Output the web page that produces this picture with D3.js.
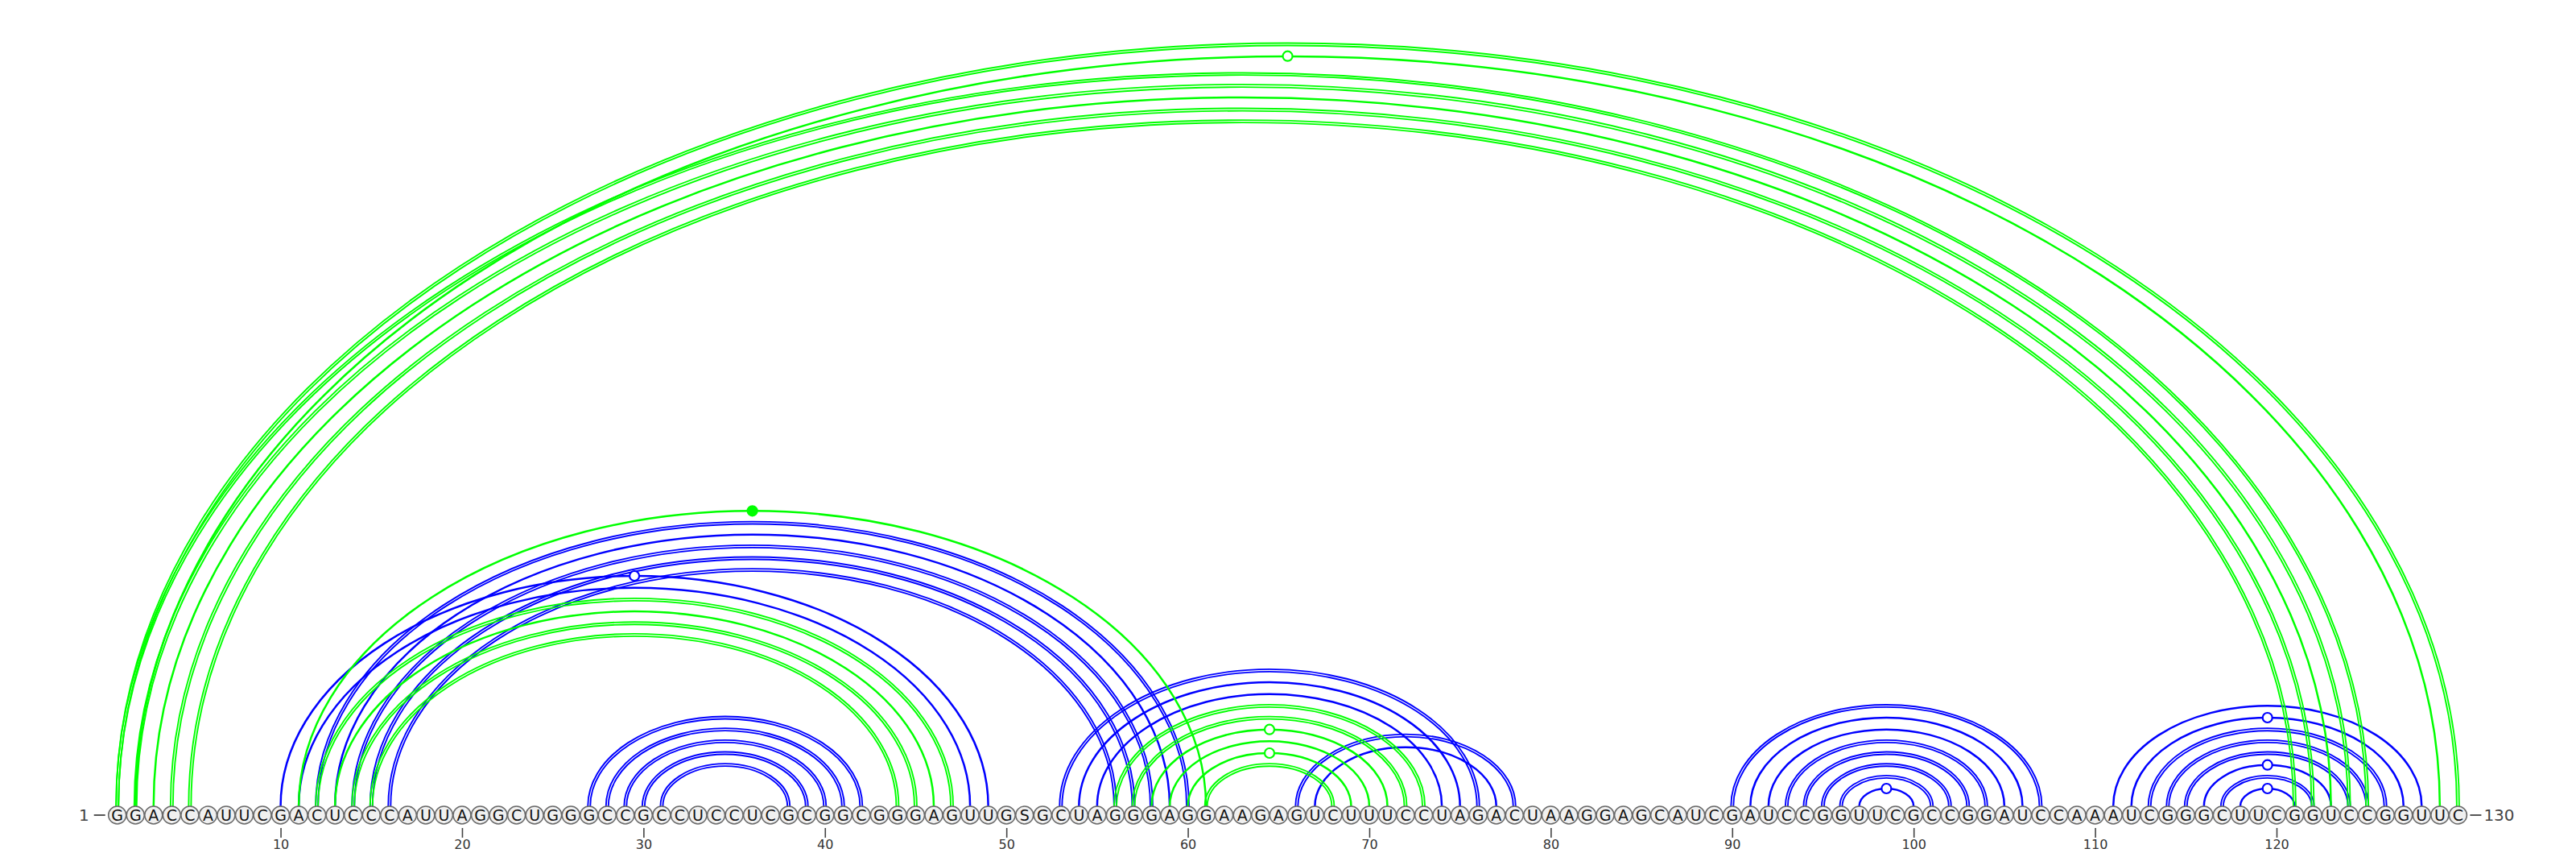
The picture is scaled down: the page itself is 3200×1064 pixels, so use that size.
<!DOCTYPE html>
<html><head><meta charset="utf-8">
<script src="https://cdn.jsdelivr.net/npm/d3@7"></script>
<style>body{margin:0;background:#fff}svg{display:block}</style>
</head><body>
<svg id="c" width="3200" height="1064"></svg>
<script>
// ---- data ----
const sequence = "GGACCAUUCGACUCCCAUUAGGCUGGGCCGCCUCCUCGCGGCGGGAGUUGSGCUAGGGAGGAAGAGUCUUUCCUAGACUAAGGAGCAUCGAUCCGGUUCGCCGGAUCCAAAUCGGGCUUCGGUCCGGUUC";
const greenPairs = [
  [1,130],[2,129],[1,125],[2,124],[3,123],[4,122],[5,121],
  [12,47],[13,46],[14,45],[15,44],
  [11,61],
  [56,73],[57,72],[58,71],[59,70],[60,69],[61,68]
];
const bluePairs = [
  [10,49],[11,48],[12,60],[13,59],[14,58],[15,57],[16,56],
  [27,42],[28,41],[29,40],[30,39],[31,38],
  [53,76],[54,75],[55,74],
  [66,78],[67,77],
  [90,107],[91,106],[92,105],[93,104],[94,103],[95,102],[96,101],[97,100],
  [111,128],[112,127],[113,126],[114,125],[115,124],[116,123],[117,122],[118,121]
];
const tickValues = [10,20,30,40,50,60,70,80,90,100,110,120];

// ---- layout ----
const svg = d3.select("#c");
const N = sequence.length;
const x = d3.scaleLinear().domain([1, N]).range([145.7, 3053.4]);
const yBase = 1012;       // nucleotide centre line
const yArc = 1001;        // arc foot (top of nucleotide circles)
const hScale = d3.scaleLinear().domain([0, N - 1]).range([0, 946]); // arc height by span

function pairKind(i, j) {
  const p = sequence[i-1] + sequence[j-1];
  if (p === "GC" || p === "CG") return "double";
  if (p === "AU" || p === "UA") return "single";
  if (p === "GU" || p === "UG") return "wobble";
  return "noncanon";
}
function arcPath(x1, x2, ry) {
  const rx = (x2 - x1) / 2;
  return `M${x1},${yArc} A${rx},${ry} 0 0 1 ${x2},${yArc}`;
}

function drawPairs(pairs, color) {
  const g = svg.append("g").attr("fill", "none").attr("stroke", color);
  pairs.forEach(([i, j]) => {
    const kind = pairKind(i, j);
    const x1 = x(i), x2 = x(j), ry = hScale(j - i);
    if (kind === "double") {
      const o = 1.5;
      g.append("path").attr("d", arcPath(x1 - o, x2 + o, ry + o)).attr("stroke-width", 1.9);
      g.append("path").attr("d", arcPath(x1 + o, x2 - o, ry - o)).attr("stroke-width", 1.9);
    } else {
      g.append("path").attr("d", arcPath(x1, x2, ry)).attr("stroke-width", 2.5);
    }
  });
  pairs.forEach(([i, j]) => {
    const kind = pairKind(i, j);
    if (kind === "wobble" || kind === "noncanon") {
      svg.append("circle")
        .attr("cx", (x(i) + x(j)) / 2)
        .attr("cy", yArc - hScale(j - i))
        .attr("r", 6)
        .attr("fill", kind === "wobble" ? "#fff" : color)
        .attr("stroke", color)
        .attr("stroke-width", 2.2);
    }
  });
}
drawPairs(bluePairs, "#0000ff");
drawPairs(greenPairs, "#00ff00");

// ---- nucleotides ----
const nts = svg.append("g").selectAll("g").data(sequence.split("")).join("g")
  .attr("transform", (d, k) => `translate(${x(k + 1)},${yBase})`);
nts.append("circle").attr("r", 11).attr("fill", "#f0f0f0")
  .attr("stroke", "#6a6a6a").attr("stroke-width", 1.6);
nts.append("text").text(d => d)
  .attr("text-anchor", "middle").attr("dy", "0.36em")
  .attr("font-family", "DejaVu Sans, sans-serif").attr("font-size", 19)
  .attr("fill", "#111");

// ---- axis ticks ----
const axis = d3.axisBottom(x).tickValues(tickValues).tickSize(12).tickPadding(3);
const ax = svg.append("g").attr("transform", `translate(0,${yBase + 16})`).call(axis);
ax.select(".domain").remove();
ax.selectAll(".tick line").attr("stroke", "#444").attr("stroke-width", 1.6);
ax.selectAll(".tick text").attr("font-family", "DejaVu Sans, sans-serif")
  .attr("font-size", 16).attr("fill", "#333");

// ---- end labels ----
svg.append("text").attr("x", x(1) - 35).attr("y", yBase).attr("dy", "0.36em")
  .attr("text-anchor", "end").attr("font-family", "DejaVu Sans, sans-serif")
  .attr("font-size", 20).attr("fill", "#444").text("1");
svg.append("line").attr("x1", x(1) - 29).attr("x2", x(1) - 15)
  .attr("y1", yBase).attr("y2", yBase).attr("stroke", "#444").attr("stroke-width", 1.8);
svg.append("line").attr("x1", x(N) + 15).attr("x2", x(N) + 29)
  .attr("y1", yBase).attr("y2", yBase).attr("stroke", "#444").attr("stroke-width", 1.8);
svg.append("text").attr("x", x(N) + 32).attr("y", yBase).attr("dy", "0.36em")
  .attr("text-anchor", "start").attr("font-family", "DejaVu Sans, sans-serif")
  .attr("font-size", 20).attr("fill", "#444").text(String(N));
</script>
</body></html>
